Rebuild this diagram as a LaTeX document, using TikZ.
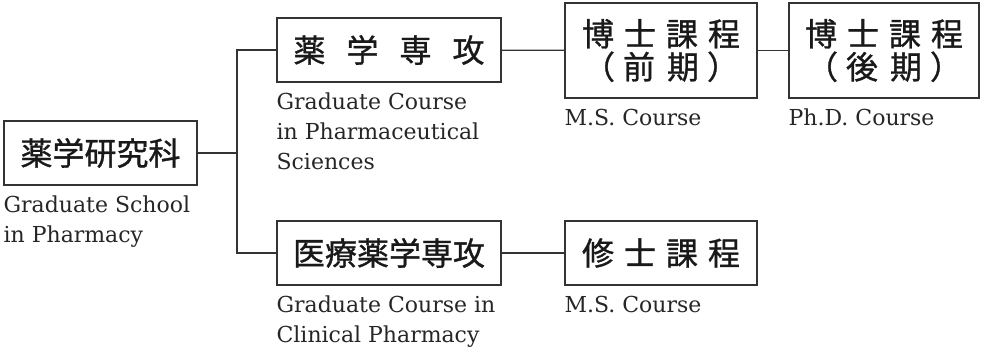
\documentclass[tikz,border=0pt]{standalone}
\usepackage{fontspec}
\setmainfont{DejaVu Serif}
\newfontfamily\jp[FakeBold=1]{Noto Sans CJK JP}
\usetikzlibrary{positioning}
\tikzstyle{unit}=[draw=black!80,line width=1.2pt,inner sep=0pt,text=black!90,font=\jp\fontsize{32}{33}\selectfont,align=center]
\tikzstyle{eng}=[anchor=north west,inner sep=0pt,text=black!85,align=left,font=\fontsize{22}{30}\selectfont]
\tikzstyle{link}=[draw=black!80,line width=1.2pt]

\begin{document}
\begin{tikzpicture}[x=1pt,y=-1pt]
    \useasboundingbox (0,0) rectangle (981,349);

    \node[unit, minimum width=193pt, minimum height=64pt] (school) at (100.5,153) {薬学研究科};
    \node[unit, minimum width=224pt, minimum height=64pt] (pharm) at (389,50) {薬\hspace{21pt}学\hspace{21pt}専\hspace{21pt}攻};
    \node[unit, minimum width=224pt, minimum height=64pt] (clin) at (389,253) {医療薬学専攻};
    \node[unit, minimum width=192pt, minimum height=95pt] (ms) at (661,50.5) {博\hspace{10pt}士\hspace{10pt}課\hspace{10pt}程\\（\hspace{8pt}前\hspace{12pt}期\hspace{8pt}）};
    \node[unit, minimum width=190pt, minimum height=95pt] (phd) at (884,50.5) {博\hspace{10pt}士\hspace{10pt}課\hspace{10pt}程\\（\hspace{8pt}後\hspace{12pt}期\hspace{8pt}）};
    \node[unit, minimum width=192pt, minimum height=64pt] (msclin) at (661,253) {修\hspace{10pt}士\hspace{10pt}課\hspace{10pt}程};

    \coordinate (trunk) at (237,153);

    % connectors
    \path[link] (school.east) -- (trunk);
    \path[link] (pharm.west) -| (trunk) |- (clin.west);
    \path[link] (pharm) -- (ms);
    \path[link] (ms) -- (phd);
    \path[link] (clin) -- (msclin);

    % english names
    \foreach \src/\name/\txt in {school/school-en/{Graduate School\\in Pharmacy},
                                 pharm/pharm-en/{Graduate Course\\in Pharmaceutical\\Sciences},
                                 clin/clin-en/{Graduate Course in\\Clinical Pharmacy},
                                 ms/ms-en/{M.S. Course},
                                 phd/phd-en/{Ph.D. Course},
                                 msclin/msclin-en/{M.S. Course}}
        \node[eng] (\name) at ([yshift=-10pt]\src.south west) {\txt};

\end{tikzpicture}
\end{document}
